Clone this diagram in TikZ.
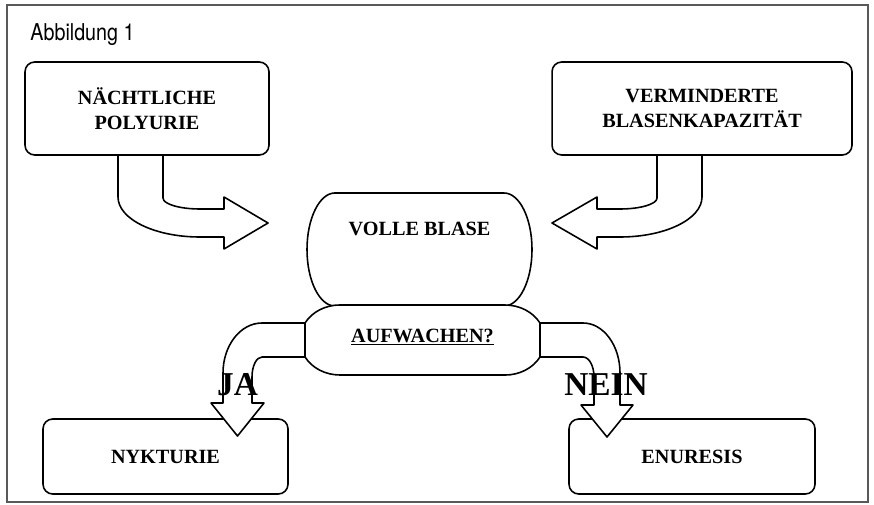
\documentclass[tikz,border=0pt]{standalone}
\usepackage{fontspec}
\setmainfont{Liberation Serif}
\newfontfamily\figfont[FakeStretch=0.85]{TeX Gyre Heros}

\tikzset{
  box/.style={draw, line width=0.9pt, rounded corners=5.5pt, align=center, inner sep=0pt,
    font=\bfseries\fontsize{11.5}{14.2}\selectfont},
  boxtext/.style={anchor=base, inner sep=0pt, font=\bfseries\fontsize{11.5}{14.2}\selectfont},
  blockarrow/.style={draw, fill=white, line width=0.9pt, line join=round},
  capsule/.style={draw, fill=white, line width=0.9pt},
  answer/.style={anchor=base, inner sep=0pt, font=\bfseries\fontsize{19}{22}\selectfont},
}

\begin{document}
\begin{tikzpicture}[x=0.02cm,y=0.02cm]
    \useasboundingbox (0,0) rectangle (874,504);
    % Frame, title
    \draw[black!65, line width=1pt] (7,2) rectangle (868,499);
    \node[anchor=base west, inner sep=0pt, font=\figfont\fontsize{13.2}{15}\selectfont] (title) at (30,463) {Abbildung 1};
    % Outcomes
    \node[box, minimum width=4.9cm, minimum height=1.5cm] (nyk) at (165.5,47.5) {NYKTURIE};
    \node[box, minimum width=4.92cm, minimum height=1.5cm] (enu) at (692,47.5) {ENURESIS};
    % Arrows into the bladder
    \draw[blockarrow] (118,349) -- (118,307) arc[start angle=180, end angle=270, x radius=82, y radius=40]
        -- (224,267) -- (224,255) -- (268,281) -- (224,307) -- (224,295) -- (200,295)
        arc[start angle=270, end angle=180, x radius=37, y radius=11] -- (163,349);
    \draw[blockarrow] (702,349) -- (702,307) arc[start angle=0, end angle=-90, x radius=82, y radius=40]
        -- (597,267) -- (597,255) -- (552,281) -- (597,307) -- (597,295) -- (620,295)
        arc[start angle=-90, end angle=0, x radius=37, y radius=11] -- (657,349);
    % Arrows out of the question
    \draw[blockarrow] (305,181) -- (262,181) arc[start angle=90, end angle=180, x radius=39, y radius=50]
        -- (223,101) -- (211,101) -- (237.5,68) -- (264,101) -- (252,101) -- (252,127)
        arc[start angle=180, end angle=90, x radius=10, y radius=20] -- (305,147);
    \draw[blockarrow] (540,181) -- (583,181) arc[start angle=90, end angle=0, x radius=37, y radius=50]
        -- (620,99) -- (633,99) -- (607,67) -- (581,99) -- (594,99) -- (594,127)
        arc[start angle=0, end angle=90, x radius=11, y radius=20] -- (540,147);
    % Causes
    \node[box, minimum width=4.88cm, minimum height=1.86cm] (nacht) at (147,395.5) {NÄCHTLICHE\\POLYURIE};
    \node[box, minimum width=6cm, minimum height=1.86cm] (verm) at (702,395.5) {VERMINDERTE\\BLASENKAPAZITÄT};
    % Bladder and question
    \draw[capsule] (335,311) -- (504,311) arc[start angle=90, end angle=-90, x radius=28, y radius=56.5]
        -- (335,198) arc[start angle=270, end angle=90, x radius=28, y radius=56.5] -- cycle;
    \draw[capsule] (340,199) -- (505,199) arc[start angle=90, end angle=29, x radius=40, y radius=35]
        -- (540,147) arc[start angle=-29, end angle=-90, x radius=40, y radius=35]
        -- (340,129) arc[start angle=270, end angle=209, x radius=40, y radius=35]
        -- (305,181) arc[start angle=151, end angle=90, x radius=40, y radius=35] -- cycle;
    \node[boxtext] (blase) at (419.5,269) {VOLLE BLASE};
    \node[boxtext] (aufw) at (422.5,162) {\underline{AUFWACHEN?}};
    % Answers
    \node[answer] (ja) at (237.5,109) {JA};
    \node[answer] (nein) at (606,109) {NEIN};
\end{tikzpicture}
\end{document}
